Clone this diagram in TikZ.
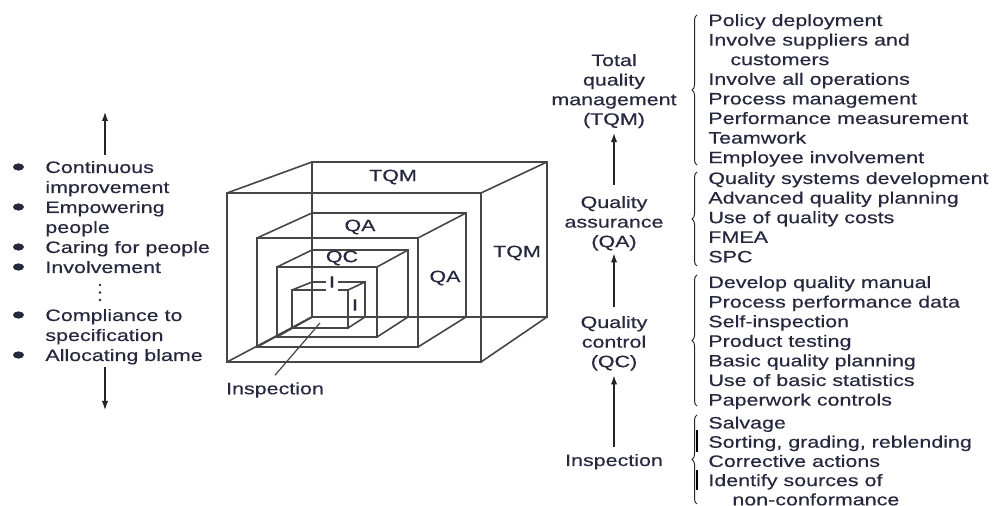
\documentclass[tikz,border=0pt]{standalone}
\usepackage{fontspec}
\setmainfont{Liberation Sans}[FakeStretch=1.3,FakeBold=0.4]
\usetikzlibrary{arrows.meta,decorations.pathreplacing}

\definecolor{ink}{RGB}{38,40,62}
\definecolor{wire}{RGB}{70,70,70}

% wireframe box: front face (x1,y1)-(x2,y2), back face (x3,y3)-(x4,y4)
\newcommand\wirecube[8]{%
  \draw[cubeline] (#1,#2) rectangle (#3,#4);
  \draw[cubeline] (#5,#6) rectangle (#7,#8);
  \draw[cubeline] (#1,#2) -- (#5,#6) (#3,#2) -- (#7,#6)
                  (#3,#4) -- (#7,#8) (#1,#4) -- (#5,#8);
}

\begin{document}
\begin{tikzpicture}[x=0.5pt,y=-0.5pt,
  every node/.style={text=ink, font=\fontsize{8.25pt}{10pt}\selectfont},
  cubeline/.style={draw=wire, line width=0.8pt},
  arr/.style={draw=black!85, line width=0.6pt, -{Latex[length=4.5pt,width=3.2pt]}},
  brc/.style={draw=black!85, line width=0.5pt, decorate,
              decoration={brace,amplitude=2.5pt}},
  lst/.style={anchor=base west, inner sep=0pt,
              font=\fontsize{8.25pt}{9.8pt}\selectfont},
  lvl/.style={anchor=base, inner sep=0pt,
              font=\fontsize{8.25pt}{9.8pt}\selectfont},
  cubelab/.style={inner sep=1pt}
]
\useasboundingbox (0,0) rectangle (996,506);

% ---------- left: scale of behaviours ----------
\node[anchor=base west, inner sep=0pt] (left) at (45,173) {%
\begin{tabular}[t]{@{}l@{}}
Continuous\\
improvement\\
Empowering\\
people\\
Caring for people\\
Involvement\\[2pt]
\\[2pt]
Compliance to\\
specification\\
Allocating blame
\end{tabular}};
% bullets of the list
\foreach \yy in {167,207,247,267,315,355}
  \fill[ink] (18.5,\yy) ellipse [x radius=5.5, y radius=3.6];
\foreach \yy in {285,292.5,300} \fill[ink] (100,\yy) circle (1.3);
\coordinate (upT) at (105,112);
\coordinate (dnT) at (105,410);
\draw[arr, shorten <=2pt] (left.north -| upT) -- (upT);
\draw[arr] (left.south -| dnT) -- (dnT);

% ---------- nested boxes ----------
\wirecube{227}{193}{481}{362}{312}{162}{547}{317}
\wirecube{257}{238}{418}{347}{312}{213}{466}{317}
\wirecube{277}{267}{377}{337}{312}{250}{408}{317}
\wirecube{292}{290}{348}{328}{312}{282}{365}{317}

\node[cubelab] (tqmtop)  at (393,177) {TQM};
\node[cubelab] (tqmside) at (517,253) {TQM};
\node[cubelab] (qatop)   at (360,227) {QA};
\node[cubelab] (qaside)  at (445,278) {QA};
\node[cubelab] (qctop)   at (342,258) {QC};
\node[cubelab, fill=white, inner sep=1.5pt] (itop) at (332,282) {I};
\node[cubelab] (iside)   at (355,305) {I};

\node (insplab) at (275,390) {Inspection};
\coordinate (inspcore) at (320,323);
\draw[draw=wire, line width=0.6pt] (insplab.north) -- (inspcore);

% ---------- middle: levels ----------
\node[lvl] (tqm) at (614,66)
  {\begin{tabular}[t]{@{}c@{}}Total\\quality\\management\\(TQM)\end{tabular}};
\node[lvl] (qa) at (614,208)
  {\begin{tabular}[t]{@{}c@{}}Quality\\assurance\\(QA)\end{tabular}};
\node[lvl] (qc) at (614,328)
  {\begin{tabular}[t]{@{}c@{}}Quality\\control\\(QC)\end{tabular}};
\node[lvl] (insp) at (614,466)
  {\begin{tabular}[t]{@{}c@{}}Inspection\end{tabular}};

\draw[arr, shorten <=4.5pt, shorten >=1pt] (qa) -- (tqm);
\draw[arr, shorten <=3.5pt] (qc) -- (qa);
\draw[arr, shorten <=2.5pt, shorten >=1pt] (insp) -- (qc);

% ---------- right: braces and lists ----------
\draw[brc] (697,165) -- (697,15);
\draw[brc] (697,266) -- (697,172);
\draw[brc] (697,406) -- (697,275);
\draw[brc] (697,504) -- (697,415);
\draw[line width=1.4pt, black] (697,430) -- (697,452) (697,470) -- (697,490);

\node[lst] (tqmlist) at (708,26) {%
\begin{tabular}[t]{@{}l@{}}
Policy deployment\\
Involve suppliers and\\
\hspace{11pt}customers\\
Involve all operations\\
Process management\\
Performance measurement\\
Teamwork\\
Employee involvement
\end{tabular}};

\node[lst] (qalist) at (708,184) {%
\begin{tabular}[t]{@{}l@{}}
Quality systems development\\
Advanced quality planning\\
Use of quality costs\\
FMEA\\
SPC
\end{tabular}};

\node[lst] (qclist) at (708,288) {%
\begin{tabular}[t]{@{}l@{}}
Develop quality manual\\
Process performance data\\
Self-inspection\\
Product testing\\
Basic quality planning\\
Use of basic statistics\\
Paperwork controls
\end{tabular}};

\node[lst, font=\fontsize{8.25pt}{9.6pt}\selectfont] (insplist) at (708,428.5) {%
\begin{tabular}[t]{@{}l@{}}
Salvage\\
Sorting, grading, reblending\\
Corrective actions\\
Identify sources of\\
\hspace{12pt}non-conformance
\end{tabular}};

\end{tikzpicture}
\end{document}
